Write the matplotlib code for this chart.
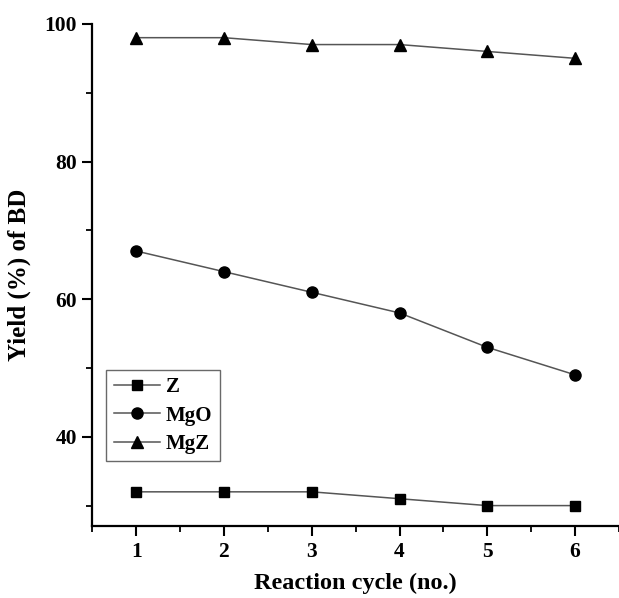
import matplotlib
matplotlib.use("Agg")
from matplotlib import pyplot as plt
from matplotlib.ticker import MultipleLocator

# data
cycles = [1, 2, 3, 4, 5, 6]
yield_z = [32, 32, 32, 31, 30, 30]
yield_mgo = [67, 64, 61, 58, 53, 49]
yield_mgz = [98, 98, 97, 97, 96, 95]

plt.rcParams['font.family'] = ['Liberation Serif', 'DejaVu Serif']
plt.rcParams['font.weight'] = 'bold'

fig = plt.figure(figsize=(6.19, 5.98), dpi=100)
ax = fig.add_axes([0.149, 0.12, 0.851, 0.84])

line_kw = dict(color='#555555', lw=1.1, mfc='black', mec='black')
ax.plot(cycles, yield_z, marker='s', ms=7, label='Z', **line_kw)
ax.plot(cycles, yield_mgo, marker='o', ms=8, label='MgO', **line_kw)
ax.plot(cycles, yield_mgz, marker='^', ms=8, label='MgZ', **line_kw)

ax.set_xlim(0.5, 6.5)
ax.set_ylim(27, 100)
ax.set_xticks(cycles)
ax.set_yticks([40, 60, 80, 100])
ax.xaxis.set_minor_locator(MultipleLocator(0.5))
ax.yaxis.set_minor_locator(MultipleLocator(10))

for side in ['top', 'right']:
    ax.spines[side].set_visible(False)
for side in ['left', 'bottom']:
    ax.spines[side].set_linewidth(1.6)

ax.tick_params(axis='both', which='major', direction='out', length=7, width=1.5, labelsize=15.5, pad=4)
ax.tick_params(axis='both', which='minor', direction='out', length=4, width=1.3)

ax.set_xlabel('Reaction cycle (no.)', fontsize=17.5, fontweight='bold', labelpad=8)
ax.set_ylabel('Yield (%) of BD', fontsize=18, fontweight='bold', labelpad=10)

leg = ax.legend(loc='upper left', bbox_to_anchor=(0.027, 0.311), fontsize=15,
                frameon=True, fancybox=False, edgecolor='#444444',
                handlelength=2.2, borderpad=0.35, labelspacing=0.4,
                handletextpad=0.3, borderaxespad=0)
leg.get_frame().set_linewidth(1.0)

fig.savefig('out.png', dpi=100)
